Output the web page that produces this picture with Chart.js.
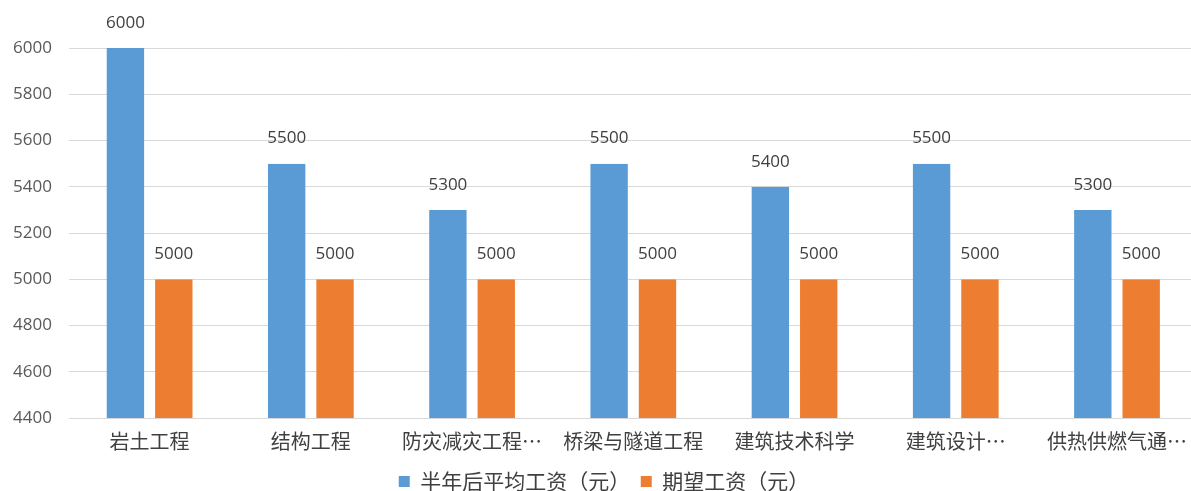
<!DOCTYPE html>
<html>
<head>
<meta charset="utf-8">
<script src="https://cdn.jsdelivr.net/npm/chart.js@4.4.1/dist/chart.umd.min.js"></script>
<style>
  html, body { margin: 0; padding: 0; background: #fff; overflow: hidden; }
  #wrap { width: 1198px; height: 491px; }
</style>
</head>
<body>
<div id="wrap"><canvas id="salaryChart"></canvas></div>
<script>
// chart data
const categories = ["岩土工程", "结构工程", "防灾减灾工程…", "桥梁与隧道工程", "建筑技术科学", "建筑设计…", "供热供燃气通…"];
const avgSalary = [6000, 5500, 5300, 5500, 5400, 5500, 5300];
const expectedSalary = [5000, 5000, 5000, 5000, 5000, 5000, 5000];
const seriesNames = ["半年后平均工资（元）", "期望工资（元）"];
const yMin = 4400;
const yMax = 6000;
const yStep = 200;

const CJK = '"Noto Sans CJK SC", "Noto Sans", sans-serif';
const NUM = '"Open Sans", "Noto Sans", sans-serif';

// draws the value above every bar
const valueLabels = {
  id: "valueLabels",
  afterDatasetsDraw(chart) {
    const ctx = chart.ctx;
    ctx.save();
    ctx.font = "17px " + NUM;
    ctx.fillStyle = "#404040";
    ctx.textAlign = "center";
    ctx.textBaseline = "middle";
    chart.data.datasets.forEach((ds, i) => {
      chart.getDatasetMeta(i).data.forEach((bar, j) => {
        ctx.fillText(ds.data[j], bar.x, bar.y - 25);
      });
    });
    ctx.restore();
  }
};

const gap = { left: 5.5, right: 5.5, top: 0, bottom: 0 };

const ctx = document.getElementById("salaryChart").getContext("2d");
new Chart(ctx, {
  type: "bar",
  data: {
    labels: categories,
    datasets: [
      {
        label: seriesNames[0],
        data: avgSalary,
        backgroundColor: "#5B9BD5",
        borderColor: "rgba(0,0,0,0)",
        borderWidth: gap,
      },
      {
        label: seriesNames[1],
        data: expectedSalary,
        backgroundColor: "#ED7D31",
        borderColor: "rgba(0,0,0,0)",
        borderWidth: gap,
      },
    ],
  },
  options: {
    responsive: true,
    maintainAspectRatio: false,
    animation: false,
    layout: { padding: { top: 48, left: 10, right: 0, bottom: -11 } },
    categoryPercentage: 0.6,
    barPercentage: 1.0,
    scales: {
      x: {
        grid: { display: false, drawTicks: false },
        border: { color: "#d9d9d9", width: 1 },
        ticks: {
          color: "#404040",
          font: { family: CJK, size: 20 },
          maxRotation: 0,
          autoSkip: false,
          padding: 11,
        },
        afterFit: (scale) => { scale.height = 53; },
      },
      y: {
        min: yMin,
        max: yMax,
        ticks: {
          stepSize: yStep,
          color: "#595959",
          font: { family: NUM, size: 17 },
          padding: 17,
          callback: (v) => String(v),
        },
        grid: { color: "#d9d9d9", drawTicks: false },
        border: { display: false },
        afterFit: (scale) => { scale.width = 59; },
      },
    },
    plugins: {
      legend: {
        position: "bottom",
        labels: {
          boxWidth: 11,
          boxHeight: 11,
          color: "#404040",
          font: { family: CJK, size: 21 },
          padding: 0,
          // a little space after each item, like the original legend
          generateLabels: (chart) =>
            Chart.defaults.plugins.legend.labels.generateLabels(chart).map((item, i, all) => {
              if (i < all.length - 1) item.text = item.text + "\u2002";
              return item;
            }),
        },
      },
      tooltip: { enabled: false },
    },
  },
  plugins: [valueLabels],
});
</script>
</body>
</html>
